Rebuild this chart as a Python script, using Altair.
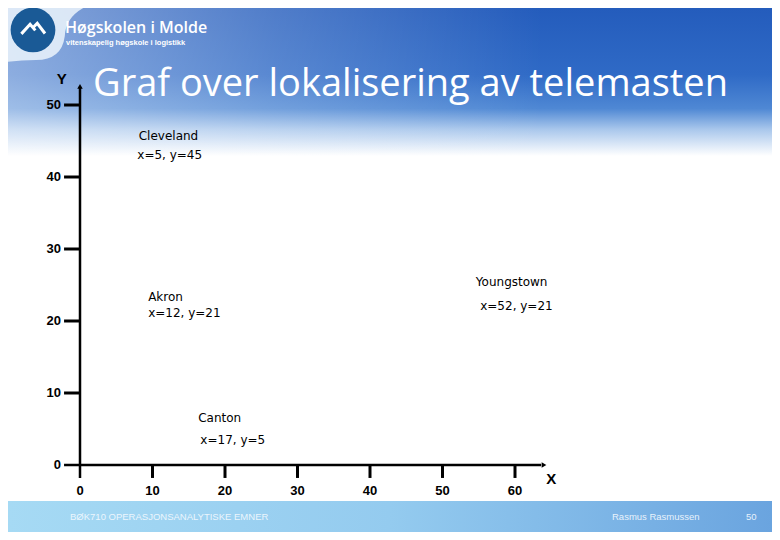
import altair as alt
import pandas as pd

# ---- data ----
cities = ["Cleveland", "Akron", "Youngstown", "Canton"]
city_x = [5, 12, 52, 17]
city_y = [45, 21, 21, 5]
# where the text boxes sit (data units, left edge of text)
name_lx = [8.1, 9.4, 54.6, 16.3]
name_ly = [45.7, 23.3, 25.4, 6.5]
coord_lx = [7.9, 9.4, 55.2, 16.6]
coord_ly = [43.1, 21.1, 22.1, 3.5]

x_ticks = [0, 10, 20, 30, 40, 50, 60]
y_ticks = [0, 10, 20, 30, 40, 50]
axis_names = ["Y", "X"]
axis_name_x = [-2.5, 65.0]
axis_name_y = [53.6, -2.0]

title_text = "Graf over lokalisering av telemasten"
school = "Høgskolen i Molde"
school_sub = "vitenskapelig høgskole i logistikk"
footer_left = "BØK710 OPERASJONSANALYTISKE EMNER"
footer_author = "Rasmus Rasmussen"
footer_page = "50"

W, H = 764, 524
xs = alt.Scale(domain=[-9.931, 95.448], nice=False, zero=False)
ys = alt.Scale(domain=[-9.306, 63.472], nice=False, zero=False)

one = pd.DataFrame({"a": [0]})

# ---- background decoration ----
sky = alt.Chart(one).mark_rect(fill={
    "gradient": "linear", "x1": 0, "y1": 0, "x2": 0, "y2": 1,
    "stops": [
        {"offset": 0.0, "color": "#245cbc"},
        {"offset": 0.45, "color": "#2f6ac6"},
        {"offset": 0.68, "color": "#4f88d4"},
        {"offset": 0.82, "color": "#a9c7ec"},
        {"offset": 1.0, "color": "#ffffff"},
    ]}).encode(x=alt.value(0), x2=alt.value(W), y=alt.value(0), y2=alt.value(148))

sky_light = alt.Chart(one).mark_rect(fill={
    "gradient": "linear", "x1": 0, "y1": 0, "x2": 1, "y2": 0,
    "stops": [
        {"offset": 0.0, "color": "rgba(255,255,255,0.45)"},
        {"offset": 0.35, "color": "rgba(255,255,255,0.2)"},
        {"offset": 0.7, "color": "rgba(255,255,255,0.0)"},
        {"offset": 1.0, "color": "rgba(255,255,255,0.0)"},
    ]}).encode(x=alt.value(0), x2=alt.value(W), y=alt.value(0), y2=alt.value(148))

band = alt.Chart(one).mark_rect(fill={
    "gradient": "linear", "x1": 0, "y1": 0, "x2": 1, "y2": 0,
    "stops": [
        {"offset": 0.0, "color": "#a6daf4"},
        {"offset": 0.5, "color": "#94cbef"},
        {"offset": 1.0, "color": "#6aa4df"},
    ]}).encode(x=alt.value(0), x2=alt.value(W), y=alt.value(493), y2=alt.value(H))

swoosh = alt.Chart(one).mark_point(
    shape="M-1,-0.5 L0.75,-0.5 Q0.1,-0.35 0.08,0.1 Q0.03,0.5 -0.4,0.5 Q-0.7,0.5 -1,0.55 Z",
    filled=True, fill="#e6eff9", opacity=0.9, stroke=None, size=14400
).encode(x=alt.value(52), y=alt.value(22))

logo = alt.Chart(one).mark_point(filled=True, fill="#1a5a96", size=2000, opacity=1, strokeWidth=0).encode(
    x=alt.value(25), y=alt.value(22))
mountain = alt.Chart(one).mark_point(
    shape="M-0.6,0.2 L-0.15,-0.3 L0.12,0.02 M-0.02,-0.1 L0.22,-0.35 L0.62,0.18",
    filled=False, stroke="white", strokeWidth=3, size=1500, opacity=1
).encode(x=alt.value(25), y=alt.value(22))

school_t = alt.Chart(one).mark_text(text=school, font="Open Sans", fontWeight=600, fontSize=16,
                                    color="white", align="left", baseline="alphabetic").encode(
    x=alt.value(57), y=alt.value(25))
school_s = alt.Chart(one).mark_text(text=school_sub, font="Liberation Sans", fontWeight="bold", fontSize=7.5,
                                    color="white", align="left", baseline="alphabetic").encode(
    x=alt.value(58), y=alt.value(37))

title = alt.Chart(one).mark_text(text=title_text, font="Open Sans", fontSize=38, color="white",
                                 align="left", baseline="alphabetic").encode(
    x=alt.value(85), y=alt.value(88))

foot_df = pd.DataFrame({"t": [footer_left, footer_author, footer_page],
                        "px": [62, 604, 738]})
footer = alt.Chart(foot_df).mark_text(font="Liberation Sans", fontSize=9.5, color="#f4faff",
                                      opacity=0.9, align="left", baseline="middle").encode(
    x=alt.X("px:Q", scale=None), y=alt.value(509), text="t:N")

# ---- axes ----
axis_df = pd.DataFrame({"x": [0, -2.2], "x2": [0, 63.6], "y": [-1.8, 0], "y2": [52.4, 0]})
axes = alt.Chart(axis_df).mark_rule(color="black", strokeWidth=2.5).encode(
    x=alt.X("x:Q", scale=xs, axis=None), x2="x2:Q",
    y=alt.Y("y:Q", scale=ys, axis=None), y2="y2:Q")

arrow_df = pd.DataFrame({"x": [0, 64.0], "y": [52.6, 0], "s": ["triangle-up", "triangle-right"]})
arrows = alt.Chart(arrow_df).mark_point(filled=True, color="black", size=30, opacity=1).encode(
    x=alt.X("x:Q", scale=xs, axis=None), y=alt.Y("y:Q", scale=ys, axis=None),
    shape=alt.Shape("s:N", scale=None))

ytick_df = pd.DataFrame({"y": y_ticks[1:]})
yticks = alt.Chart(ytick_df).mark_rule(color="black", strokeWidth=3).encode(
    x=alt.X("x0:Q", scale=xs, axis=None), x2="x1:Q",
    y=alt.Y("y:Q", scale=ys, axis=None)).transform_calculate(x0="-2.2", x1="0")

xtick_df = pd.DataFrame({"x": x_ticks[1:]})
xticks = alt.Chart(xtick_df).mark_rule(color="black", strokeWidth=3).encode(
    x=alt.X("x:Q", scale=xs, axis=None),
    y=alt.Y("y0:Q", scale=ys, axis=None), y2="y1:Q").transform_calculate(y0="-1.8", y1="0")

ylab_df = pd.DataFrame({"y": y_ticks, "t": [str(v) for v in y_ticks]})
ylabels = alt.Chart(ylab_df).mark_text(font="Liberation Sans", fontWeight="bold", fontSize=13,
                                       align="right", baseline="middle", dx=-3).encode(
    x=alt.X("x0:Q", scale=xs, axis=None), y=alt.Y("y:Q", scale=ys, axis=None), text="t:N"
).transform_calculate(x0="-2.2")

xlab_df = pd.DataFrame({"x": x_ticks, "t": [str(v) for v in x_ticks]})
xlabels = alt.Chart(xlab_df).mark_text(font="Liberation Sans", fontWeight="bold", fontSize=13,
                                       align="center", baseline="middle").encode(
    x=alt.X("x:Q", scale=xs, axis=None), y=alt.Y("y0:Q", scale=ys, axis=None), text="t:N"
).transform_calculate(y0="-3.6")

aname_df = pd.DataFrame({"x": axis_name_x, "y": axis_name_y, "t": axis_names})
anames = alt.Chart(aname_df).mark_text(font="Liberation Sans", fontWeight="bold", fontSize=15,
                                       align="center", baseline="middle").encode(
    x=alt.X("x:Q", scale=xs, axis=None), y=alt.Y("y:Q", scale=ys, axis=None), text="t:N")

# ---- city labels ----
lab_df = pd.DataFrame({
    "x": name_lx + coord_lx,
    "y": name_ly + coord_ly,
    "t": cities + [f"x={a}, y={b}" for a, b in zip(city_x, city_y)],
})
labels = alt.Chart(lab_df).mark_text(font="DejaVu Sans", fontSize=12, color="black",
                                     align="left", baseline="middle").encode(
    x=alt.X("x:Q", scale=xs, axis=None), y=alt.Y("y:Q", scale=ys, axis=None), text="t:N")

chart = alt.layer(
    sky, sky_light, band, swoosh, logo, mountain, school_t, school_s,
    title, footer,
    axes, arrows, yticks, xticks, ylabels, xlabels, anames, labels,
).properties(
    width=W, height=H, padding=0, autosize=alt.AutoSizeParams(type="none")
).configure_view(stroke=None, fill="white")

chart.save("out.html", embed_options={"renderer": "svg", "actions": False})
